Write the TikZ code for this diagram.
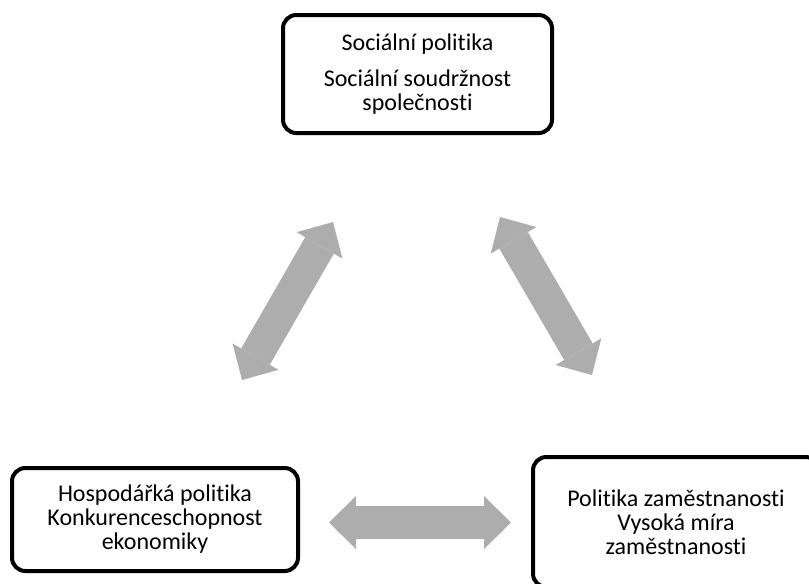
\documentclass[tikz,border=0pt]{standalone}
\usepackage{fontspec}
\setmainfont{Carlito}[Ligatures=NoCommon]
\usetikzlibrary{arrows.meta,positioning}
\definecolor{arrgray}{RGB}{173,173,173}

\begin{document}
\begin{tikzpicture}[x=0.75pt,y=-0.75pt,
box/.style = {draw, line width=3pt, rounded corners=10pt, align=center,
              font=\fontsize{18}{18}\selectfont},
tipgray/.tip = {Triangle[length=20.25pt,width=39.75pt,line width=0pt 0 0]},
dblarr/.style = {draw=arrgray, line width=24.75pt, tipgray-tipgray}
                        ]
\useasboundingbox (0,0) rectangle (809,583);
\clip (0,0) rectangle (809,583);
% boxes
\node (soc) [box, minimum width=201.75pt, minimum height=88.5pt] at (417.5,74)
    {Sociální politika\\[9pt] Sociální soudržnost\\ společnosti};
\node (hosp) [box, minimum width=214.5pt, minimum height=77.25pt] at (155,519.5)
    {Hospodářká politika\\ Konkurenceschopnost\\ ekonomiky};
\node (zam) [box, minimum width=214.5pt, minimum height=97.5pt] at (676,522)
    {Politika zaměstnanosti\\ Vysoká míra\\ zaměstnanosti};
%
\coordinate (a1) at (242,380);
\coordinate (a2) at (333,222);
\coordinate (b1) at (500,217);
\coordinate (b2) at (592,375);
\coordinate (c1) at (329,522.5);
\coordinate (c2) at (511,522.5);
%
\foreach \i in {a,b,c}
    \draw[dblarr] (\i1) -- (\i2);
\end{tikzpicture}
\end{document}
